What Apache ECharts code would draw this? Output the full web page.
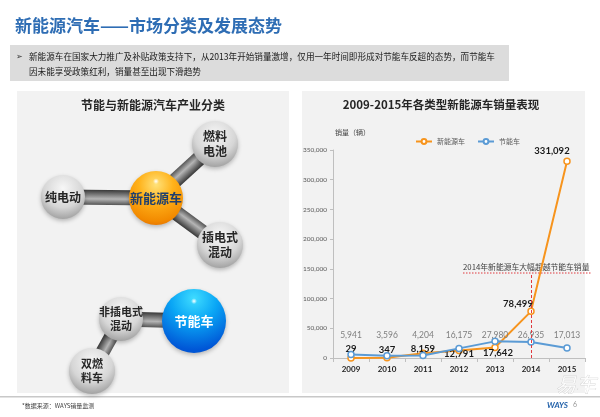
<!DOCTYPE html>
<html>
<head>
<meta charset="utf-8">
<script src="https://cdn.jsdelivr.net/npm/echarts@6/dist/echarts.min.js"></script>
<style>
  html, body { margin: 0; padding: 0; background: #fff; }
  #main { width: 600px; height: 417px; }
</style>
</head>
<body>
<div id="main"></div>
<script>
// chart data
const years = ['2009', '2010', '2011', '2012', '2013', '2014', '2015']
const nevSales = [29, 347, 8159, 12791, 17642, 78499, 331092]
const saveSales = [5941, 3596, 4204, 16175, 27980, 26935, 17013]
const seriesNames = ['新能源车', '节能车']
const yMax = 350000
const yStep = 50000

// diagram labels
const nevHub = '新能源车'
const nevKinds = ['纯电动', '燃料\n电池', '插电式\n混动']
const saveHub = '节能车'
const saveKinds = ['非插电式\n混动', '双燃\n料车']

const pageTitle = '新能源汽车——市场分类及发展态势'
const summary = ['新能源车在国家大力推广及补贴政策支持下，从2013年开始销量激增，仅用一年时间即形成对节能车反超的态势，而节能车',
  '因未能享受政策红利，销量甚至出现下滑趋势']
const leftTitle = '节能与新能源汽车产业分类'
const rightTitle = '2009-2015年各类型新能源车销量表现'
const note = '2014年新能源车大幅超越节能车销量'
const source = '*数据来源：WAYS销量监测'

// layout (positions only)
const CJK = '"Noto Sans CJK SC", sans-serif'
const NUM = 'Lato, "Noto Sans CJK SC", sans-serif'
const grid = { left: 333, top: 150, width: 252, height: 208 }
const nevHubPos = [156, 198, 27]
const nevKindPos = [[63, 197, 22], [215, 144, 23], [220, 245, 23]]
const saveHubPos = [194, 321, 32]
const saveKindPos = [[121, 319, 22], [92, 371, 23]]
const nevLabelOffsets = [[0, -9], [0, -8], [0, -4], [0, 4], [3, 5], [-13, -7], [-15, -10]]
const saveLabelLevel = 38700
const nevColor = '#f7941d'
const saveColor = '#5b9bd5'

const fmt = v => v.toLocaleString('en-US')
const pxPerUnit = grid.height / yMax

function bar(a, b, w) {
  const dx = b[0] - a[0], dy = b[1] - a[1]
  return {
    type: 'rect', x: a[0], y: a[1], rotation: -Math.atan2(dy, dx),
    shape: { x: 0, y: -w / 2, width: Math.hypot(dx, dy), height: w },
    style: {
      fill: new echarts.graphic.LinearGradient(0, 0, 0, 1, [
        { offset: 0, color: '#555555' },
        { offset: 0.4, color: '#b5b5b5' },
        { offset: 1, color: '#383838' }
      ])
    }
  }
}

function ball(p, stops, fx, fy) {
  return {
    type: 'circle', shape: { cx: p[0], cy: p[1], r: p[2] },
    style: {
      fill: new echarts.graphic.RadialGradient(fx, fy, 0.8, stops),
      shadowBlur: 4, shadowColor: 'rgba(0,0,0,0.25)', shadowOffsetY: 2
    }
  }
}

const grayStops = [
  { offset: 0, color: '#f7f7f7' },
  { offset: 0.55, color: '#d6d6d6' },
  { offset: 1, color: '#8f8f8f' }
]

function ballText(p, text, size, color) {
  return {
    type: 'text', x: p[0], y: p[1],
    style: {
      text: text, fill: color, align: 'center', verticalAlign: 'middle',
      fontSize: size, fontWeight: 'bold', fontFamily: CJK, lineHeight: size + 3
    }
  }
}

function highlight(p) {
  return {
    type: 'ellipse', shape: { cx: p[0], cy: p[1] - p[2] * 0.62, rx: 4, ry: 3 },
    style: {
      fill: new echarts.graphic.RadialGradient(0.5, 0.5, 0.5, [
        { offset: 0, color: 'rgba(255,255,255,1)' },
        { offset: 1, color: 'rgba(255,255,255,0)' }
      ])
    }
  }
}

const graphics = [
  // page furniture
  { type: 'text', x: 15, y: 26, style: { text: pageTitle, fill: '#2e6db4', fontSize: 17, fontWeight: 'bold', fontFamily: CJK, verticalAlign: 'middle' } },
  { type: 'rect', shape: { x: 10, y: 45, width: 499, height: 36 }, style: { fill: '#dcdcdc' } },
  { type: 'text', x: 16, y: 57, style: { text: '➢', fill: '#333', fontSize: 8, fontFamily: 'DejaVu Sans', verticalAlign: 'middle' } },
  { type: 'text', x: 29, y: 57, style: { text: summary[0], fill: '#1a1a1a', fontSize: 8.6, fontFamily: CJK, verticalAlign: 'middle' } },
  { type: 'text', x: 29, y: 72, style: { text: summary[1], fill: '#1a1a1a', fontSize: 8.6, fontFamily: CJK, verticalAlign: 'middle' } },
  { type: 'rect', z: -10, shape: { x: 17, y: 91, width: 272, height: 302 }, style: { fill: '#f2f2f2' } },
  { type: 'rect', z: -10, shape: { x: 302, y: 91, width: 283, height: 302 }, style: { fill: '#f2f2f2' } },
  { type: 'rect', shape: { x: 0, y: 396, width: 600, height: 1.5 }, style: { fill: '#c8c8c8' } },
  { type: 'text', x: 22, y: 406, style: { text: source, fill: '#404040', fontSize: 6, fontFamily: CJK, verticalAlign: 'middle' } },
  { type: 'text', x: 556, y: 384, style: { text: '易车', fill: 'rgba(255,255,255,0.85)', stroke: 'rgba(170,170,170,0.6)', lineWidth: 0.6, fontSize: 20, fontStyle: 'italic', fontFamily: CJK, verticalAlign: 'middle' } },
  { type: 'text', x: 547, y: 405, style: { text: 'WAYS', fill: '#1f5fa8', fontSize: 8, fontWeight: 'bold', fontStyle: 'italic', fontFamily: NUM, verticalAlign: 'middle' } },
  { type: 'text', x: 573, y: 405, style: { text: '6', fill: '#999', fontSize: 7, fontFamily: NUM, verticalAlign: 'middle' } },
  // panel titles
  { type: 'text', x: 153, y: 105, style: { text: leftTitle, fill: '#262626', fontSize: 12, fontWeight: 'bold', fontFamily: CJK, align: 'center', verticalAlign: 'middle' } },
  { type: 'text', x: 441, y: 105, style: { text: rightTitle, fill: '#262626', fontSize: 11.5, fontWeight: 'bold', fontFamily: CJK, align: 'center', verticalAlign: 'middle' } },
  // annotation
  { type: 'line', shape: { x1: 463, y1: 273, x2: 592, y2: 273 }, style: { stroke: '#e0393e', lineWidth: 1, lineDash: [1.5, 1.5] } },
  { type: 'text', x: 463, y: 267, style: { text: note, fill: '#404040', fontSize: 7.8, fontFamily: CJK, verticalAlign: 'middle' } }
]

// connectors, then balls on top
nevKindPos.forEach(p => graphics.push(bar(nevHubPos, p, 15)))
graphics.push(bar(saveHubPos, saveKindPos[0], 15))
graphics.push(bar(saveKindPos[0], saveKindPos[1], 14))

nevKindPos.forEach((p, i) => {
  graphics.push(ball(p, grayStops, 0.5, 0.3))
  graphics.push(ballText(p, nevKinds[i], 12, '#262626'))
})
saveKindPos.forEach((p, i) => {
  graphics.push(ball(p, grayStops, 0.5, 0.3))
  graphics.push(ballText(p, saveKinds[i], 11, '#262626'))
})
graphics.push(ball(nevHubPos, [
  { offset: 0, color: '#ffe27a' },
  { offset: 0.4, color: '#ffb21a' },
  { offset: 0.85, color: '#f28a00' },
  { offset: 1, color: '#e47000' }
], 0.5, 0.25))
graphics.push(highlight(nevHubPos))
graphics.push(ballText(nevHubPos, nevHub, 13, '#1f3f6e'))
graphics.push(ball(saveHubPos, [
  { offset: 0, color: '#3fdcff' },
  { offset: 0.45, color: '#0aa6f5' },
  { offset: 1, color: '#0056d6' }
], 0.5, 0.15))
graphics.push(highlight(saveHubPos))
graphics.push(ballText(saveHubPos, saveHub, 13, '#ffffff'))

const chart = echarts.init(document.getElementById('main'), null, { renderer: 'canvas' })

chart.setOption({
  animation: false,
  backgroundColor: '#ffffff',
  textStyle: { fontFamily: CJK },
  legend: {
    data: seriesNames,
    left: 410,
    top: 133,
    itemWidth: 16,
    itemHeight: 6,
    itemGap: 12,
    textStyle: { fontSize: 7, color: '#595959' }
  },
  grid: grid,
  xAxis: {
    type: 'category',
    data: years,
    axisLine: { lineStyle: { color: '#bfbfbf' } },
    axisTick: { show: true, length: 4, lineStyle: { color: '#bfbfbf' } },
    axisLabel: { color: '#262626', fontSize: 8, fontWeight: 'bold', fontFamily: NUM, margin: 7 }
  },
  yAxis: {
    type: 'value',
    min: 0,
    max: yMax,
    interval: yStep,
    name: '销量（辆）',
    nameGap: 14,
    nameTextStyle: { align: 'left', color: '#404040', fontSize: 7, padding: [0, 0, 0, 2] },
    axisLine: { show: true, lineStyle: { color: '#bfbfbf' } },
    axisTick: { show: true, length: 3, lineStyle: { color: '#bfbfbf' } },
    splitLine: { show: false },
    axisLabel: { color: '#595959', fontSize: 6.5, fontFamily: NUM, margin: 6, formatter: fmt }
  },
  series: [
    {
      name: seriesNames[0],
      type: 'line',
      data: nevSales.map((v, i) => ({
        value: v,
        label: { offset: nevLabelOffsets[i] }
      })),
      lineStyle: { width: 2, color: nevColor },
      symbol: 'circle',
      symbolSize: 6,
      itemStyle: { color: '#ffffff', borderColor: nevColor, borderWidth: 1.5 },
      label: {
        show: true, position: 'inside', color: '#1a1a1a',
        fontSize: 9.5, fontWeight: 'bold', fontFamily: NUM,
        formatter: p => fmt(p.value)
      },
      markLine: {
        silent: true,
        symbol: 'none',
        label: { show: false },
        lineStyle: { color: '#e0393e', type: [3, 2], width: 1 },
        data: [[{ coord: ['2014', 0] }, { coord: ['2014', 140000] }]]
      },
      z: 2
    },
    {
      name: seriesNames[1],
      type: 'line',
      data: saveSales.map(v => ({
        value: v,
        label: { offset: [0, -(saveLabelLevel - v) * pxPerUnit] }
      })),
      lineStyle: { width: 2, color: saveColor },
      symbol: 'circle',
      symbolSize: 6,
      itemStyle: { color: '#ffffff', borderColor: saveColor, borderWidth: 1.5 },
      label: {
        show: true, position: 'inside', color: '#7f7f7f',
        fontSize: 8.5, fontFamily: NUM,
        formatter: p => fmt(p.value)
      },
      z: 3
    }
  ],
  graphic: graphics
})
</script>
</body>
</html>
